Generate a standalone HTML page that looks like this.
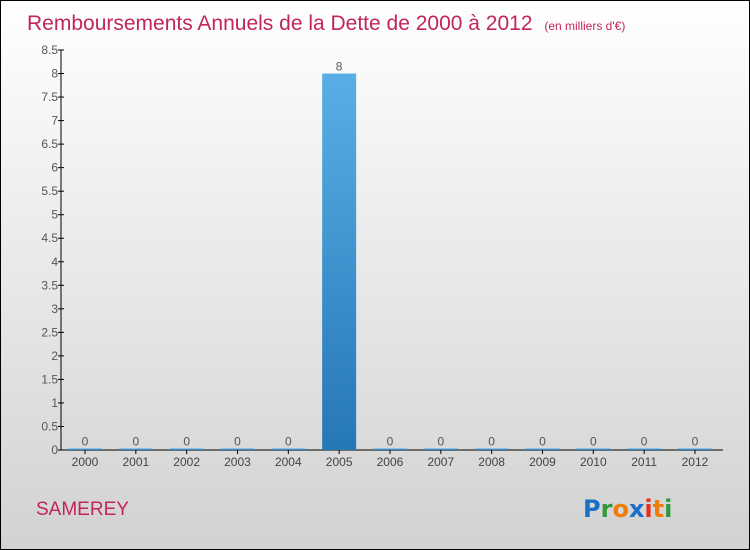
<!DOCTYPE html>
<html><head><meta charset="utf-8"><style>
body{margin:0}
#c{position:relative;width:748px;height:548px;border:1px solid #000;background:linear-gradient(#ffffff,#d2d2d2);overflow:hidden;font-family:"Liberation Sans",sans-serif}
</style></head><body>
<div id="c">
<svg id="s" width="748" height="548" style="position:absolute;left:0;top:0">
<text x="26" y="29" font-size="21" fill="#c2255c">Remboursements Annuels de la Dette de 2000 à 2012 <tspan font-size="12" dx="6">(en milliers d'€)</tspan></text>
<text x="35" y="514" font-size="19" fill="#c2255c">SAMEREY</text>
<g font-size="24" font-weight="bold" font-family="'DejaVu Sans',sans-serif">
<text x="582" y="516"><tspan fill="#1a6fc9">P</tspan><tspan fill="#2e9a3a">r</tspan><tspan fill="#f07c0a">o</tspan><tspan fill="#1a6fc9">x</tspan><tspan fill="#e5321d">i</tspan><tspan fill="#f07c0a">t</tspan><tspan fill="#2e9a3a">i</tspan></text>
</g>
<defs><linearGradient id="bg" x1="0" y1="0" x2="0" y2="1"><stop offset="0" stop-color="#5aaee6"/><stop offset="1" stop-color="#2677b5"/></linearGradient></defs>
<g id="plot"></g>
</svg>
</div>
<script>
const categories=["2000","2001","2002","2003","2004","2005","2006","2007","2008","2009","2010","2011","2012"];
const values=[0,0,0,0,0,8,0,0,0,0,0,0,0];
const yTicks=[0,0.5,1,1.5,2,2.5,3,3.5,4,4.5,5,5.5,6,6.5,7,7.5,8,8.5];
const yTickLabels=["0","0.5","1","1.5","2","2.5","3","3.5","4","4.5","5","5.5","6","6.5","7","7.5","8","8.5"];
const NS="http://www.w3.org/2000/svg";
const g=document.getElementById('plot');
const x0=60,y0=449,yTop=49,yMax=8.5,slot=50.83,first=84;
const y=v=>y0-(v/yMax)*(y0-yTop);
const xc=i=>first+i*slot;
function mk(t,a){const e=document.createElementNS(NS,t);for(const k in a)e.setAttribute(k,a[k]);g.appendChild(e);return e;}
let e=mk('line',{x1:x0,y1:yTop,x2:x0,y2:y0,stroke:'#000'});

e=mk('line',{x1:x0,y1:y0,x2:722,y2:y0,stroke:'#000'});

yTicks.forEach((v,i)=>{
 const t=mk('line',{x1:x0-3,y1:y(v),x2:x0+3,y2:y(v),stroke:'#000'});
 
 const l=mk('text',{x:x0-3,y:y(v)+4,'font-size':12,fill:'#555','text-anchor':'end'});
 l.textContent=yTickLabels[i];
 
});
categories.forEach((c,i)=>{
 const v=values[i],bw=34,top=Math.min(y(v),y0-1.5);
 const b=mk('rect',{x:xc(i)-bw/2,y:top,width:bw,height:y0-top,fill:'url(#bg)'});
 
 const t=mk('line',{x1:xc(i),y1:y0,x2:xc(i),y2:y0+4,stroke:'#000'});
 
 const l=mk('text',{x:xc(i),y:y0+16,'font-size':12,fill:'#444','text-anchor':'middle'});
 l.textContent=c;
 
 const vl=mk('text',{x:xc(i),y:top-3,'font-size':12,fill:'#555','text-anchor':'middle'});
 vl.textContent=String(v);
 
});
</script>
</body></html>
